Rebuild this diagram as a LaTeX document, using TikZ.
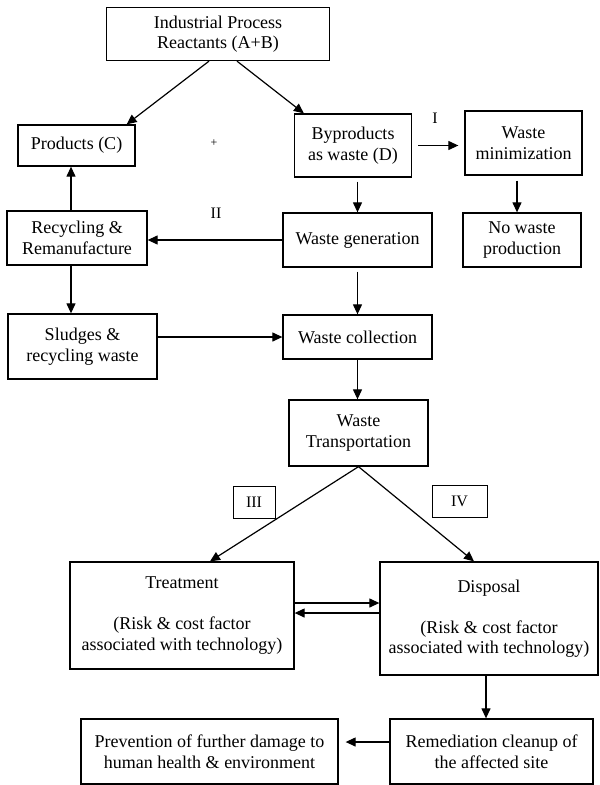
\documentclass[tikz,border=0pt]{standalone}
\usepackage{fontspec}
\setmainfont{Liberation Serif}
\usetikzlibrary{arrows.meta}

\begin{document}
\begin{tikzpicture}[
  x=1pt, y=-1pt,
  box/.style={draw, line width=1.3pt, align=center, inner sep=2pt,
              font=\fontsize{18}{20.5}\selectfont},
  tag/.style={draw, line width=1pt, minimum height=32pt,
              font=\fontsize{16}{18}\selectfont},
  arr/.style={line width=1.2pt, -{Triangle[length=10pt,width=9pt]}},
]
  \useasboundingbox (0,0) rectangle (600,785);

  % Top row
  \node[box, minimum width=223pt, minimum height=53pt] (react) at (218,34)
    {Industrial Process\\Reactants (A+B)};
  \node[box, minimum width=117pt, minimum height=41pt] (prod) at (76.5,145.5)
    {Products (C)};
  \node[box, minimum width=117pt, minimum height=63pt] (byprod) at (353,145.5)
    {Byproducts\\as waste (D)};
  \node[box, minimum width=117pt, minimum height=64pt] (wmin) at (523.5,143)
    {Waste\\minimization};

  % Middle rows
  \node[box, minimum width=140pt, minimum height=54pt] (recyc) at (77,238)
    {Recycling \&\\Remanufacture};
  \node[box, minimum width=149pt, minimum height=54pt] (wgen) at (357.5,240)
    {Waste generation};
  \node[box, minimum width=118pt, minimum height=54pt] (nowaste) at (522,240)
    {No waste\\production};
  \node[box, minimum width=149pt, minimum height=65pt] (sludge) at (82.5,346.5)
    {Sludges \&\\recycling waste};
  \node[box, minimum width=149pt, minimum height=44pt] (wcoll) at (357.5,337)
    {Waste collection};
  \node[box, minimum width=139pt, minimum height=66pt] (wtrans) at (358.5,433)
    {Waste\\Transportation};

  % Route tags
  \node[tag, minimum width=42pt] (tag3) at (254,502) {III};
  \node[tag, minimum width=55pt] (tag4) at (459.5,501) {IV};
  \node[font=\fontsize{16}{18}\selectfont] (tag1) at (435,118) {I};
  \node[font=\fontsize{16}{18}\selectfont] (tag2) at (216,213) {II};
  \node[font=\fontsize{12}{14}\selectfont] (plus) at (214,143) {+};

  % Bottom rows
  \node[box, minimum width=224pt, minimum height=107pt] (treat) at (182,615.5)
    {Treatment\\[20.5pt](Risk \& cost factor\\associated with technology)};
  \node[box, minimum width=218pt, minimum height=113pt] (disp) at (489,618.5)
    {Disposal\\[20.5pt](Risk \& cost factor\\associated with technology)};
  \node[box, minimum width=203pt, minimum height=65pt] (remed) at (491.5,751.5)
    {Remediation cleanup of\\the affected site};
  \node[box, minimum width=257pt, minimum height=65pt] (prev) at (209.5,751.5)
    {Prevention of further damage to\\human health \& environment};

  % Connectors
  \draw[arr] ([xshift=-9pt]react.south) -- ([xshift=-9pt]prod.north east);
  \draw[arr] ([xshift=19pt]react.south) -- ([xshift=10pt]byprod.north west);
  \draw[arr, shorten <=6pt, shorten >=6pt] (byprod.east) -- (byprod.east -| wmin.west);
  \draw[arr, shorten <=5pt] ([xshift=-5pt]nowaste.north |- wmin.south) -- ([xshift=-5pt]nowaste.north);
  \draw[arr, shorten <=4pt] (wgen.north |- byprod.south) -- (wgen.north);
  \draw[arr] (wgen.west) -- (wgen.west -| recyc.east);
  \draw[arr] ([xshift=-6pt]recyc.north) -- ([xshift=-6pt]recyc.north |- prod.south);
  \draw[arr] ([xshift=-6pt]recyc.south) -- ([xshift=-6pt]recyc.south |- sludge.north);
  \draw[arr] (wcoll.west -| sludge.east) -- (wcoll.west);
  \draw[arr, shorten <=4pt] (wgen.south) -- (wgen.south |- wcoll.north);
  \draw[arr] (wcoll.south) -- (wcoll.south |- wtrans.north);
  \draw[arr] (wtrans.south) -- ([xshift=28pt]treat.north);
  \draw[arr] (wtrans.south) -- ([xshift=-15pt]disp.north);
  \draw[arr] ([yshift=12.5pt]treat.east) -- ([yshift=12.5pt]treat.east -| disp.west);
  \draw[arr] ([yshift=2.5pt]treat.east -| disp.west) -- ([yshift=2.5pt]treat.east);
  \draw[arr] ([xshift=-3pt]disp.south) -- ([xshift=-3pt]disp.south |- remed.north);
  \draw[arr, shorten >=7pt] ([yshift=9.5pt]remed.west) -- ([yshift=9.5pt]remed.west -| prev.east);

\end{tikzpicture}
\end{document}
